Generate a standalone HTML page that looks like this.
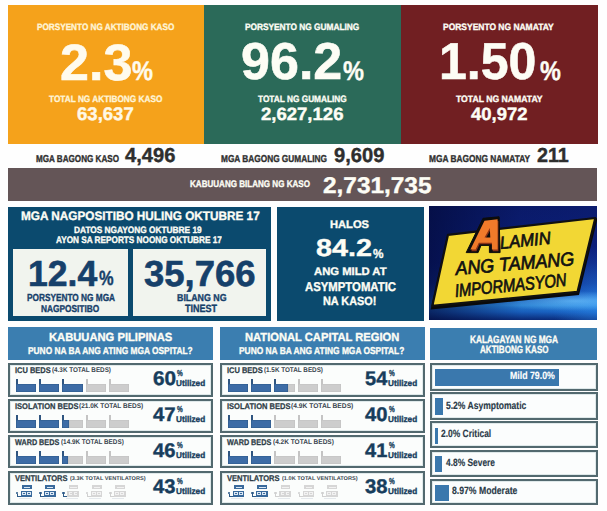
<!DOCTYPE html>
<html><head><meta charset="utf-8"><style>
html,body{margin:0;padding:0;background:#fefefe;width:607px;height:511px;overflow:hidden;position:relative}
.r{position:absolute;display:block}
.t{position:absolute;white-space:nowrap;font-family:"Liberation Sans",sans-serif;transform-origin:0 0;text-rendering:geometricPrecision}
</style></head><body>
<div class="r" style="left:8px;top:5px;width:196px;height:139px;background:#F5A21B;"></div>
<div class="r" style="left:204px;top:5px;width:197px;height:139px;background:#2B6A59;"></div>
<div class="r" style="left:401px;top:5px;width:197px;height:139px;background:#711F22;"></div>
<div class="t" style="left:36.83px;top:23px;font-size:9.25px;line-height:9.25px;font-weight:bold;color:#fff4d6;transform:scaleX(0.885);-webkit-text-stroke:0.35px #fff4d6;">PORSYENTO NG AKTIBONG KASO</div>
<div class="t" style="left:59.74px;top:37px;font-size:51.25px;line-height:51.25px;font-weight:bold;color:#fffbee;transform:scaleX(1.016);-webkit-text-stroke:0.6px #fffbee;">2.3</div>
<div class="t" style="left:131.93px;top:58px;font-size:27.0px;line-height:27.0px;font-weight:bold;color:#fffbee;transform:scaleX(0.873);-webkit-text-stroke:0.4px #fffbee;">%</div>
<div class="t" style="left:49.22px;top:95px;font-size:9.25px;line-height:9.25px;font-weight:bold;color:#fff4d6;transform:scaleX(0.892);-webkit-text-stroke:0.35px #fff4d6;">TOTAL NG AKTIBONG KASO</div>
<div class="t" style="left:76.66px;top:105px;font-size:18.25px;line-height:18.25px;font-weight:bold;color:#fff8e6;transform:scaleX(1.017);-webkit-text-stroke:0.4px #fff8e6;">63,637</div>
<div class="t" style="left:244.72px;top:23px;font-size:9.25px;line-height:9.25px;font-weight:bold;color:#fdfdf5;transform:scaleX(0.898);-webkit-text-stroke:0.35px #fdfdf5;">PORSYENTO NG GUMALING</div>
<div class="t" style="left:241.05px;top:36px;font-size:52.0px;line-height:52.0px;font-weight:bold;color:#fdfdf5;-webkit-text-stroke:0.6px #fdfdf5;">96.2</div>
<div class="t" style="left:342.73px;top:58px;font-size:27.0px;line-height:27.0px;font-weight:bold;color:#fdfdf5;transform:scaleX(0.873);-webkit-text-stroke:0.4px #fdfdf5;">%</div>
<div class="t" style="left:258.32px;top:95px;font-size:9.25px;line-height:9.25px;font-weight:bold;color:#fdfdf5;transform:scaleX(0.895);-webkit-text-stroke:0.35px #fdfdf5;">TOTAL NG GUMALING</div>
<div class="t" style="left:261.44px;top:106px;font-size:17.75px;line-height:17.75px;font-weight:bold;color:#fdfdf5;transform:scaleX(1.044);-webkit-text-stroke:0.4px #fdfdf5;">2,627,126</div>
<div class="t" style="left:443.01px;top:23px;font-size:9.25px;line-height:9.25px;font-weight:bold;color:#fdfdf5;transform:scaleX(0.915);-webkit-text-stroke:0.35px #fdfdf5;">PORSYENTO NG NAMATAY</div>
<div class="t" style="left:439.40px;top:36px;font-size:52.0px;line-height:52.0px;font-weight:bold;color:#fdfdf5;transform:scaleX(0.963);-webkit-text-stroke:0.6px #fdfdf5;">1.50</div>
<div class="t" style="left:539.53px;top:58px;font-size:27.0px;line-height:27.0px;font-weight:bold;color:#fdfdf5;transform:scaleX(0.869);-webkit-text-stroke:0.4px #fdfdf5;">%</div>
<div class="t" style="left:455.91px;top:95px;font-size:9.25px;line-height:9.25px;font-weight:bold;color:#fdfdf5;transform:scaleX(0.933);-webkit-text-stroke:0.35px #fdfdf5;">TOTAL NG NAMATAY</div>
<div class="t" style="left:470.62px;top:106px;font-size:17.75px;line-height:17.75px;font-weight:bold;color:#fdfdf5;transform:scaleX(1.041);-webkit-text-stroke:0.4px #fdfdf5;">40,972</div>
<div class="t" style="left:36.33px;top:155px;font-size:10.0px;line-height:10.0px;font-weight:bold;color:#2e2e2e;transform:scaleX(0.810);-webkit-text-stroke:0.35px #2e2e2e;">MGA BAGONG KASO</div>
<div class="t" style="left:124.80px;top:146px;font-size:20.25px;line-height:20.25px;font-weight:bold;color:#2e2e2e;transform:scaleX(0.994);-webkit-text-stroke:0.4px #2e2e2e;">4,496</div>
<div class="t" style="left:221.32px;top:155px;font-size:10.0px;line-height:10.0px;font-weight:bold;color:#2e2e2e;transform:scaleX(0.828);-webkit-text-stroke:0.35px #2e2e2e;">MGA BAGONG GUMALING</div>
<div class="t" style="left:333.80px;top:146px;font-size:20.25px;line-height:20.25px;font-weight:bold;color:#2e2e2e;transform:scaleX(0.994);-webkit-text-stroke:0.4px #2e2e2e;">9,609</div>
<div class="t" style="left:428.62px;top:155px;font-size:10.0px;line-height:10.0px;font-weight:bold;color:#2e2e2e;transform:scaleX(0.834);-webkit-text-stroke:0.35px #2e2e2e;">MGA BAGONG NAMATAY</div>
<div class="t" style="left:536.71px;top:146px;font-size:20.25px;line-height:20.25px;font-weight:bold;color:#2e2e2e;transform:scaleX(0.975);-webkit-text-stroke:0.4px #2e2e2e;">211</div>
<div class="r" style="left:8px;top:168px;width:589px;height:33px;background:#645557;"></div>
<div class="t" style="left:189.74px;top:180px;font-size:9.5px;line-height:9.5px;font-weight:bold;color:#fdfdf5;transform:scaleX(0.848);-webkit-text-stroke:0.35px #fdfdf5;">KABUUANG BILANG NG KASO</div>
<div class="t" style="left:323.17px;top:174px;font-size:22.75px;line-height:22.75px;font-weight:bold;color:#fdfdf5;transform:scaleX(1.072);-webkit-text-stroke:0.4px #fdfdf5;">2,731,735</div>
<div class="r" style="left:8px;top:207px;width:263px;height:114px;background:#0B4A6E;"></div>
<div class="t" style="left:20.98px;top:210px;font-size:12.25px;line-height:12.25px;font-weight:bold;color:#fdfdf5;transform:scaleX(0.960);-webkit-text-stroke:0.35px #fdfdf5;">MGA NAGPOSITIBO HULING OKTUBRE 17</div>
<div class="t" style="left:73.72px;top:226px;font-size:9.25px;line-height:9.25px;font-weight:bold;color:#fdfdf5;transform:scaleX(0.898);-webkit-text-stroke:0.35px #fdfdf5;">DATOS NGAYONG OKTUBRE 19</div>
<div class="t" style="left:55.75px;top:236px;font-size:9.5px;line-height:9.5px;font-weight:bold;color:#fdfdf5;transform:scaleX(0.864);-webkit-text-stroke:0.35px #fdfdf5;">AYON SA REPORTS NOONG OKTUBRE 17</div>
<div class="r" style="left:13px;top:249px;width:115px;height:67px;background:#f1f4ee;"></div>
<div class="r" style="left:133px;top:249px;width:133px;height:67px;background:#f1f4ee;"></div>
<div class="t" style="left:27.67px;top:256px;font-size:36.25px;line-height:36.25px;font-weight:bold;color:#16406a;transform:scaleX(0.980);-webkit-text-stroke:0.6px #16406a;">12.4</div>
<div class="t" style="left:98.67px;top:269px;font-size:20.5px;line-height:20.5px;font-weight:bold;color:#16406a;transform:scaleX(0.801);-webkit-text-stroke:0.4px #16406a;">%</div>
<div class="t" style="left:26.82px;top:294px;font-size:10.25px;line-height:10.25px;font-weight:bold;color:#16406a;transform:scaleX(0.807);-webkit-text-stroke:0.35px #16406a;">PORSYENTO NG MGA</div>
<div class="t" style="left:41.12px;top:305px;font-size:10.0px;line-height:10.0px;font-weight:bold;color:#16406a;transform:scaleX(0.832);-webkit-text-stroke:0.35px #16406a;">NAGPOSITIBO</div>
<div class="t" style="left:144.27px;top:256px;font-size:36.25px;line-height:36.25px;font-weight:bold;color:#16406a;transform:scaleX(1.007);-webkit-text-stroke:0.6px #16406a;">35,766</div>
<div class="t" style="left:176.68px;top:294px;font-size:10.0px;line-height:10.0px;font-weight:bold;color:#16406a;transform:scaleX(0.883);-webkit-text-stroke:0.35px #16406a;">BILANG NG</div>
<div class="t" style="left:185.31px;top:304px;font-size:10.5px;line-height:10.5px;font-weight:bold;color:#16406a;transform:scaleX(0.858);-webkit-text-stroke:0.35px #16406a;">TINEST</div>
<div class="r" style="left:277px;top:207px;width:147px;height:114px;background:#0B4A6E;"></div>
<div class="t" style="left:330.22px;top:220px;font-size:11.0px;line-height:11.0px;font-weight:bold;color:#fdfdf5;transform:scaleX(1.014);-webkit-text-stroke:0.35px #fdfdf5;">HALOS</div>
<div class="t" style="left:316.44px;top:237px;font-size:24.5px;line-height:24.5px;font-weight:bold;color:#fdfdf5;transform:scaleX(1.172);-webkit-text-stroke:0.4px #fdfdf5;">84.2</div>
<div class="t" style="left:372.76px;top:247px;font-size:13.0px;line-height:13.0px;font-weight:bold;color:#fdfdf5;transform:scaleX(0.907);-webkit-text-stroke:0.35px #fdfdf5;">%</div>
<div class="t" style="left:313.66px;top:267px;font-size:11.0px;line-height:11.0px;font-weight:bold;color:#fdfdf5;transform:scaleX(1.023);-webkit-text-stroke:0.35px #fdfdf5;">ANG MILD AT</div>
<div class="t" style="left:304.86px;top:281px;font-size:12.75px;line-height:12.75px;font-weight:bold;color:#fdfdf5;transform:scaleX(0.890);-webkit-text-stroke:0.35px #fdfdf5;">ASYMPTOMATIC</div>
<div class="t" style="left:323.44px;top:295px;font-size:12.0px;line-height:12.0px;font-weight:bold;color:#fdfdf5;transform:scaleX(0.907);-webkit-text-stroke:0.35px #fdfdf5;">NA KASO!</div>
<div class="r" style="left:8px;top:327px;width:205px;height:33px;background:#3B7EB0;"></div>
<div class="r" style="left:220px;top:327px;width:205px;height:33px;background:#3B7EB0;"></div>
<div class="r" style="left:430px;top:328px;width:167px;height:32px;background:#3B7EB0;"></div>
<div class="t" style="left:49.22px;top:332px;font-size:11.75px;line-height:11.75px;font-weight:bold;color:#fdfdf5;transform:scaleX(0.953);-webkit-text-stroke:0.35px #fdfdf5;">KABUUANG PILIPINAS</div>
<div class="t" style="left:28.32px;top:347px;font-size:10.0px;line-height:10.0px;font-weight:bold;color:#fdfdf5;transform:scaleX(0.835);-webkit-text-stroke:0.35px #fdfdf5;">PUNO NA BA ANG ATING MGA OSPITAL?</div>
<div class="t" style="left:244.62px;top:332px;font-size:11.75px;line-height:11.75px;font-weight:bold;color:#fdfdf5;transform:scaleX(0.951);-webkit-text-stroke:0.35px #fdfdf5;">NATIONAL CAPITAL REGION</div>
<div class="t" style="left:239.41px;top:347px;font-size:10.0px;line-height:10.0px;font-weight:bold;color:#fdfdf5;transform:scaleX(0.838);-webkit-text-stroke:0.35px #fdfdf5;">PUNO NA BA ANG ATING MGA OSPITAL?</div>
<div class="t" style="left:469.92px;top:335px;font-size:10.5px;line-height:10.5px;font-weight:bold;color:#fdfdf5;transform:scaleX(0.792);-webkit-text-stroke:0.35px #fdfdf5;">KALAGAYAN NG MGA</div>
<div class="t" style="left:480.16px;top:345px;font-size:10.5px;line-height:10.5px;font-weight:bold;color:#fdfdf5;transform:scaleX(0.768);-webkit-text-stroke:0.35px #fdfdf5;">AKTIBONG KASO</div>
<div class="r" style="left:8px;top:363px;width:205px;height:34px;background:#fbfdfc;box-sizing:border-box;border:2px solid #52696f;box-shadow:inset 0 0 0 1px #dfe9ea"></div>
<div class="t" style="left:14.58px;top:367px;font-size:8.25px;line-height:8.25px;font-weight:bold;color:#2f3d48;transform:scaleX(0.906);-webkit-text-stroke:0.25px #2f3d48;">ICU BEDS</div>
<div class="t" style="left:51.68px;top:368px;font-size:6.75px;line-height:6.75px;font-weight:bold;color:#3a4650;transform:scaleX(0.936);">(4.3K TOTAL BEDS)</div>
<div class="t" style="left:152.77px;top:370px;font-size:19.75px;line-height:19.75px;font-weight:bold;color:#173d5c;transform:scaleX(1.052);-webkit-text-stroke:0.4px #173d5c;">60</div>
<div class="t" style="left:176.77px;top:369px;font-size:8.75px;line-height:8.75px;font-weight:bold;color:#173d5c;transform:scaleX(0.735);-webkit-text-stroke:0.35px #173d5c;">%</div>
<div class="t" style="left:176.41px;top:379px;font-size:8.5px;line-height:8.5px;font-weight:bold;color:#173d5c;transform:scaleX(0.964);-webkit-text-stroke:0.35px #173d5c;">Utilized</div>
<div class="r" style="left:15.7px;top:379.1px;width:1.9000000000000021px;height:12.699999999999989px;background:#2f5580;"></div>
<div class="r" style="left:15.7px;top:383.9px;width:20.400000000000002px;height:7.900000000000034px;background:#3d6ca6;box-shadow:inset 0 0 0 0.6px #2f5a8a"></div>
<div class="r" style="left:39.0px;top:379.1px;width:1.8999999999999986px;height:12.699999999999989px;background:#2f5580;"></div>
<div class="r" style="left:39.0px;top:383.9px;width:20.4px;height:7.900000000000034px;background:#3d6ca6;box-shadow:inset 0 0 0 0.6px #2f5a8a"></div>
<div class="r" style="left:62.4px;top:379.1px;width:1.8999999999999986px;height:12.699999999999989px;background:#2f5580;"></div>
<div class="r" style="left:62.4px;top:383.9px;width:20.4px;height:7.900000000000034px;background:#3d6ca6;box-shadow:inset 0 0 0 0.6px #2f5a8a"></div>
<div class="r" style="left:85.8px;top:379.1px;width:1.9000000000000057px;height:12.699999999999989px;background:#c4c4c4;"></div>
<div class="r" style="left:85.8px;top:383.9px;width:20.400000000000006px;height:7.900000000000034px;background:#cdcdcd;box-shadow:inset 0 0 0 0.6px #c2c2c2"></div>
<div class="r" style="left:109.1px;top:379.1px;width:1.9000000000000057px;height:12.699999999999989px;background:#c4c4c4;"></div>
<div class="r" style="left:109.1px;top:383.9px;width:20.400000000000006px;height:7.900000000000034px;background:#cdcdcd;box-shadow:inset 0 0 0 0.6px #c2c2c2"></div>
<div class="r" style="left:8px;top:399px;width:205px;height:34px;background:#fbfdfc;box-sizing:border-box;border:2px solid #52696f;box-shadow:inset 0 0 0 1px #dfe9ea"></div>
<div class="t" style="left:14.57px;top:403px;font-size:8.25px;line-height:8.25px;font-weight:bold;color:#2f3d48;transform:scaleX(0.913);-webkit-text-stroke:0.25px #2f3d48;">ISOLATION BEDS</div>
<div class="t" style="left:79.48px;top:404px;font-size:6.75px;line-height:6.75px;font-weight:bold;color:#3a4650;transform:scaleX(0.962);">(21.0K TOTAL BEDS)</div>
<div class="t" style="left:153.40px;top:406px;font-size:19.75px;line-height:19.75px;font-weight:bold;color:#173d5c;transform:scaleX(1.032);-webkit-text-stroke:0.4px #173d5c;">47</div>
<div class="t" style="left:176.77px;top:405px;font-size:8.75px;line-height:8.75px;font-weight:bold;color:#173d5c;transform:scaleX(0.735);-webkit-text-stroke:0.35px #173d5c;">%</div>
<div class="t" style="left:176.41px;top:415px;font-size:8.5px;line-height:8.5px;font-weight:bold;color:#173d5c;transform:scaleX(0.964);-webkit-text-stroke:0.35px #173d5c;">Utilized</div>
<div class="r" style="left:15.7px;top:415.1px;width:1.9000000000000021px;height:12.699999999999989px;background:#2f5580;"></div>
<div class="r" style="left:15.7px;top:419.9px;width:20.400000000000002px;height:7.900000000000034px;background:#3d6ca6;box-shadow:inset 0 0 0 0.6px #2f5a8a"></div>
<div class="r" style="left:39.0px;top:415.1px;width:1.8999999999999986px;height:12.699999999999989px;background:#2f5580;"></div>
<div class="r" style="left:39.0px;top:419.9px;width:20.4px;height:7.900000000000034px;background:#3d6ca6;box-shadow:inset 0 0 0 0.6px #2f5a8a"></div>
<div class="r" style="left:62.4px;top:415.1px;width:1.8999999999999986px;height:12.699999999999989px;background:#2f5580;"></div>
<div class="r" style="left:62.4px;top:419.9px;width:6.500000000000007px;height:7.900000000000034px;background:#3d6ca6;box-shadow:inset 0 0 0 0.6px #2f5a8a"></div>
<div class="r" style="left:68.9px;top:419.9px;width:13.899999999999991px;height:7.900000000000034px;background:#cdcdcd;box-shadow:inset 0 0 0 0.6px #c2c2c2"></div>
<div class="r" style="left:85.8px;top:415.1px;width:1.9000000000000057px;height:12.699999999999989px;background:#c4c4c4;"></div>
<div class="r" style="left:85.8px;top:419.9px;width:20.400000000000006px;height:7.900000000000034px;background:#cdcdcd;box-shadow:inset 0 0 0 0.6px #c2c2c2"></div>
<div class="r" style="left:109.1px;top:415.1px;width:1.9000000000000057px;height:12.699999999999989px;background:#c4c4c4;"></div>
<div class="r" style="left:109.1px;top:419.9px;width:20.400000000000006px;height:7.900000000000034px;background:#cdcdcd;box-shadow:inset 0 0 0 0.6px #c2c2c2"></div>
<div class="r" style="left:8px;top:435px;width:205px;height:33px;background:#fbfdfc;box-sizing:border-box;border:2px solid #52696f;box-shadow:inset 0 0 0 1px #dfe9ea"></div>
<div class="t" style="left:15.10px;top:439px;font-size:8.25px;line-height:8.25px;font-weight:bold;color:#2f3d48;transform:scaleX(0.877);-webkit-text-stroke:0.25px #2f3d48;">WARD BEDS</div>
<div class="t" style="left:60.68px;top:440px;font-size:6.75px;line-height:6.75px;font-weight:bold;color:#3a4650;transform:scaleX(0.940);">(14.9K TOTAL BEDS)</div>
<div class="t" style="left:153.40px;top:442px;font-size:19.75px;line-height:19.75px;font-weight:bold;color:#173d5c;transform:scaleX(1.022);-webkit-text-stroke:0.4px #173d5c;">46</div>
<div class="t" style="left:176.77px;top:441px;font-size:8.75px;line-height:8.75px;font-weight:bold;color:#173d5c;transform:scaleX(0.735);-webkit-text-stroke:0.35px #173d5c;">%</div>
<div class="t" style="left:176.41px;top:451px;font-size:8.5px;line-height:8.5px;font-weight:bold;color:#173d5c;transform:scaleX(0.964);-webkit-text-stroke:0.35px #173d5c;">Utilized</div>
<div class="r" style="left:15.7px;top:451.1px;width:1.9000000000000021px;height:12.699999999999989px;background:#2f5580;"></div>
<div class="r" style="left:15.7px;top:455.9px;width:20.400000000000002px;height:7.900000000000034px;background:#3d6ca6;box-shadow:inset 0 0 0 0.6px #2f5a8a"></div>
<div class="r" style="left:39.0px;top:451.1px;width:1.8999999999999986px;height:12.699999999999989px;background:#2f5580;"></div>
<div class="r" style="left:39.0px;top:455.9px;width:20.4px;height:7.900000000000034px;background:#3d6ca6;box-shadow:inset 0 0 0 0.6px #2f5a8a"></div>
<div class="r" style="left:62.4px;top:451.1px;width:1.8999999999999986px;height:12.699999999999989px;background:#2f5580;"></div>
<div class="r" style="left:62.4px;top:455.9px;width:5.500000000000007px;height:7.900000000000034px;background:#3d6ca6;box-shadow:inset 0 0 0 0.6px #2f5a8a"></div>
<div class="r" style="left:67.9px;top:455.9px;width:14.899999999999991px;height:7.900000000000034px;background:#cdcdcd;box-shadow:inset 0 0 0 0.6px #c2c2c2"></div>
<div class="r" style="left:85.8px;top:451.1px;width:1.9000000000000057px;height:12.699999999999989px;background:#c4c4c4;"></div>
<div class="r" style="left:85.8px;top:455.9px;width:20.400000000000006px;height:7.900000000000034px;background:#cdcdcd;box-shadow:inset 0 0 0 0.6px #c2c2c2"></div>
<div class="r" style="left:109.1px;top:451.1px;width:1.9000000000000057px;height:12.699999999999989px;background:#c4c4c4;"></div>
<div class="r" style="left:109.1px;top:455.9px;width:20.400000000000006px;height:7.900000000000034px;background:#cdcdcd;box-shadow:inset 0 0 0 0.6px #c2c2c2"></div>
<div class="r" style="left:8px;top:471px;width:205px;height:34px;background:#fbfdfc;box-sizing:border-box;border:2px solid #52696f;box-shadow:inset 0 0 0 1px #dfe9ea"></div>
<div class="t" style="left:15.02px;top:475px;font-size:8.25px;line-height:8.25px;font-weight:bold;color:#2f3d48;transform:scaleX(0.914);-webkit-text-stroke:0.25px #2f3d48;">VENTILATORS</div>
<div class="t" style="left:69.82px;top:477px;font-size:5.5px;line-height:5.5px;font-weight:bold;color:#3a4650;transform:scaleX(1.016);">(3.3K TOTAL VENTILATORS)</div>
<div class="t" style="left:153.40px;top:478px;font-size:19.75px;line-height:19.75px;font-weight:bold;color:#173d5c;transform:scaleX(1.022);-webkit-text-stroke:0.4px #173d5c;">43</div>
<div class="t" style="left:176.77px;top:477px;font-size:8.75px;line-height:8.75px;font-weight:bold;color:#173d5c;transform:scaleX(0.735);-webkit-text-stroke:0.35px #173d5c;">%</div>
<div class="t" style="left:176.41px;top:487px;font-size:8.5px;line-height:8.5px;font-weight:bold;color:#173d5c;transform:scaleX(0.964);-webkit-text-stroke:0.35px #173d5c;">Utilized</div>
<div class="r" style="left:21.9px;top:485.4px;width:9.900000000000002px;height:3.7000000000000455px;background:#3a6a9c;"></div>
<div class="r" style="left:23.5px;top:486.8px;width:6.699999999999999px;height:0.8000000000000114px;background:#dce8f4;"></div>
<div class="r" style="left:20.6px;top:491.0px;width:11.600000000000001px;height:5.5px;background:#3a6a9c;"></div>
<div class="r" style="left:22.0px;top:492.2px;width:3.8000000000000007px;height:3.1999999999999886px;background:#dce8f4;"></div>
<div class="r" style="left:27.0px;top:492.2px;width:3.8000000000000007px;height:3.1999999999999886px;background:#dce8f4;"></div>
<div class="r" style="left:22.9px;top:493.1px;width:2.0px;height:1.3999999999999773px;background:#3a6a9c;"></div>
<div class="r" style="left:27.9px;top:493.1px;width:2.0px;height:1.3999999999999773px;background:#3a6a9c;"></div>
<div class="r" style="left:15.7px;top:491.5px;width:2.6999999999999993px;height:2.8999999999999773px;background:#2e5a88;border-radius:50%"></div>
<div class="r" style="left:16.6px;top:493.7px;width:0.8999999999999986px;height:3.5px;background:#2e5a88;"></div>
<div class="r" style="left:17.5px;top:496.4px;width:3.1000000000000014px;height:0.8000000000000114px;background:#2e5a88;"></div>
<div class="r" style="left:19.0px;top:498.4px;width:12.0px;height:0.8000000000000114px;background:#e4e8ec;"></div>
<div class="r" style="left:45.2px;top:485.4px;width:9.899999999999999px;height:3.7000000000000455px;background:#3a6a9c;"></div>
<div class="r" style="left:46.8px;top:486.8px;width:6.700000000000003px;height:0.8000000000000114px;background:#dce8f4;"></div>
<div class="r" style="left:44.0px;top:491.0px;width:11.5px;height:5.5px;background:#3a6a9c;"></div>
<div class="r" style="left:45.3px;top:492.2px;width:3.8000000000000043px;height:3.1999999999999886px;background:#dce8f4;"></div>
<div class="r" style="left:50.3px;top:492.2px;width:3.8000000000000043px;height:3.1999999999999886px;background:#dce8f4;"></div>
<div class="r" style="left:46.2px;top:493.1px;width:2.0px;height:1.3999999999999773px;background:#3a6a9c;"></div>
<div class="r" style="left:51.2px;top:493.1px;width:2.0px;height:1.3999999999999773px;background:#3a6a9c;"></div>
<div class="r" style="left:39.0px;top:491.5px;width:2.799999999999997px;height:2.8999999999999773px;background:#2e5a88;border-radius:50%"></div>
<div class="r" style="left:40.0px;top:493.7px;width:0.7999999999999972px;height:3.5px;background:#2e5a88;"></div>
<div class="r" style="left:40.8px;top:496.4px;width:3.200000000000003px;height:0.8000000000000114px;background:#2e5a88;"></div>
<div class="r" style="left:42.3px;top:498.4px;width:12.0px;height:0.8000000000000114px;background:#e4e8ec;"></div>
<div class="r" style="left:68.6px;top:485.4px;width:9.900000000000006px;height:3.7000000000000455px;background:#d6d6d6;"></div>
<div class="r" style="left:70.2px;top:486.8px;width:6.700000000000003px;height:0.8000000000000114px;background:#f2f2f2;"></div>
<div class="r" style="left:67.3px;top:491.0px;width:11.600000000000009px;height:5.5px;background:#d6d6d6;"></div>
<div class="r" style="left:68.7px;top:492.2px;width:3.799999999999997px;height:3.1999999999999886px;background:#f2f2f2;"></div>
<div class="r" style="left:73.7px;top:492.2px;width:3.799999999999997px;height:3.1999999999999886px;background:#f2f2f2;"></div>
<div class="r" style="left:69.6px;top:493.1px;width:2.0px;height:1.3999999999999773px;background:#d6d6d6;"></div>
<div class="r" style="left:74.6px;top:493.1px;width:2.0px;height:1.3999999999999773px;background:#d6d6d6;"></div>
<div class="r" style="left:62.4px;top:491.5px;width:2.6999999999999957px;height:2.8999999999999773px;background:#2e5a88;border-radius:50%"></div>
<div class="r" style="left:63.3px;top:493.7px;width:0.9000000000000057px;height:3.5px;background:#2e5a88;"></div>
<div class="r" style="left:64.2px;top:496.4px;width:3.0999999999999943px;height:0.8000000000000114px;background:#2e5a88;"></div>
<div class="r" style="left:65.7px;top:498.4px;width:12.0px;height:0.8000000000000114px;background:#e4e8ec;"></div>
<div class="r" style="left:92.0px;top:485.4px;width:9.900000000000006px;height:3.7000000000000455px;background:#d6d6d6;"></div>
<div class="r" style="left:93.6px;top:486.8px;width:6.700000000000003px;height:0.8000000000000114px;background:#f2f2f2;"></div>
<div class="r" style="left:90.7px;top:491.0px;width:11.599999999999994px;height:5.5px;background:#d6d6d6;"></div>
<div class="r" style="left:92.1px;top:492.2px;width:3.8000000000000114px;height:3.1999999999999886px;background:#f2f2f2;"></div>
<div class="r" style="left:97.1px;top:492.2px;width:3.8000000000000114px;height:3.1999999999999886px;background:#f2f2f2;"></div>
<div class="r" style="left:93.0px;top:493.1px;width:2.0px;height:1.3999999999999773px;background:#d6d6d6;"></div>
<div class="r" style="left:98.0px;top:493.1px;width:2.0px;height:1.3999999999999773px;background:#d6d6d6;"></div>
<div class="r" style="left:85.8px;top:491.5px;width:2.700000000000003px;height:2.8999999999999773px;background:#d0d0d0;border-radius:50%"></div>
<div class="r" style="left:86.7px;top:493.7px;width:0.8999999999999915px;height:3.5px;background:#d0d0d0;"></div>
<div class="r" style="left:87.6px;top:496.4px;width:3.1000000000000085px;height:0.8000000000000114px;background:#d0d0d0;"></div>
<div class="r" style="left:89.1px;top:498.4px;width:12.0px;height:0.8000000000000114px;background:#e4e8ec;"></div>
<div class="r" style="left:115.3px;top:485.4px;width:9.900000000000006px;height:3.7000000000000455px;background:#d6d6d6;"></div>
<div class="r" style="left:116.9px;top:486.8px;width:6.699999999999989px;height:0.8000000000000114px;background:#f2f2f2;"></div>
<div class="r" style="left:114.0px;top:491.0px;width:11.599999999999994px;height:5.5px;background:#d6d6d6;"></div>
<div class="r" style="left:115.4px;top:492.2px;width:3.799999999999997px;height:3.1999999999999886px;background:#f2f2f2;"></div>
<div class="r" style="left:120.4px;top:492.2px;width:3.799999999999997px;height:3.1999999999999886px;background:#f2f2f2;"></div>
<div class="r" style="left:116.3px;top:493.1px;width:2.0px;height:1.3999999999999773px;background:#d6d6d6;"></div>
<div class="r" style="left:121.3px;top:493.1px;width:2.0px;height:1.3999999999999773px;background:#d6d6d6;"></div>
<div class="r" style="left:109.1px;top:491.5px;width:2.700000000000003px;height:2.8999999999999773px;background:#d0d0d0;border-radius:50%"></div>
<div class="r" style="left:110.0px;top:493.7px;width:0.9000000000000057px;height:3.5px;background:#d0d0d0;"></div>
<div class="r" style="left:110.9px;top:496.4px;width:3.0999999999999943px;height:0.8000000000000114px;background:#d0d0d0;"></div>
<div class="r" style="left:112.4px;top:498.4px;width:12.0px;height:0.8000000000000114px;background:#e4e8ec;"></div>
<div class="r" style="left:220px;top:363px;width:205px;height:34px;background:#fbfdfc;box-sizing:border-box;border:2px solid #52696f;box-shadow:inset 0 0 0 1px #dfe9ea"></div>
<div class="t" style="left:226.58px;top:367px;font-size:8.25px;line-height:8.25px;font-weight:bold;color:#2f3d48;transform:scaleX(0.906);-webkit-text-stroke:0.25px #2f3d48;">ICU BEDS</div>
<div class="t" style="left:263.68px;top:368px;font-size:6.75px;line-height:6.75px;font-weight:bold;color:#3a4650;transform:scaleX(0.936);">(1.5K TOTAL BEDS)</div>
<div class="t" style="left:365.00px;top:370px;font-size:19.75px;line-height:19.75px;font-weight:bold;color:#173d5c;transform:scaleX(1.013);-webkit-text-stroke:0.4px #173d5c;">54</div>
<div class="t" style="left:388.77px;top:369px;font-size:8.75px;line-height:8.75px;font-weight:bold;color:#173d5c;transform:scaleX(0.735);-webkit-text-stroke:0.35px #173d5c;">%</div>
<div class="t" style="left:388.41px;top:379px;font-size:8.5px;line-height:8.5px;font-weight:bold;color:#173d5c;transform:scaleX(0.964);-webkit-text-stroke:0.35px #173d5c;">Utilized</div>
<div class="r" style="left:227.7px;top:379.1px;width:1.9000000000000057px;height:12.699999999999989px;background:#2f5580;"></div>
<div class="r" style="left:227.7px;top:383.9px;width:20.400000000000006px;height:7.900000000000034px;background:#3d6ca6;box-shadow:inset 0 0 0 0.6px #2f5a8a"></div>
<div class="r" style="left:251.0px;top:379.1px;width:1.9000000000000057px;height:12.699999999999989px;background:#2f5580;"></div>
<div class="r" style="left:251.0px;top:383.9px;width:20.399999999999977px;height:7.900000000000034px;background:#3d6ca6;box-shadow:inset 0 0 0 0.6px #2f5a8a"></div>
<div class="r" style="left:274.4px;top:379.1px;width:1.900000000000034px;height:12.699999999999989px;background:#2f5580;"></div>
<div class="r" style="left:274.4px;top:383.9px;width:13.900000000000034px;height:7.900000000000034px;background:#3d6ca6;box-shadow:inset 0 0 0 0.6px #2f5a8a"></div>
<div class="r" style="left:288.3px;top:383.9px;width:6.5px;height:7.900000000000034px;background:#cdcdcd;box-shadow:inset 0 0 0 0.6px #c2c2c2"></div>
<div class="r" style="left:297.8px;top:379.1px;width:1.8000000000000114px;height:12.699999999999989px;background:#c4c4c4;"></div>
<div class="r" style="left:297.8px;top:383.9px;width:20.30000000000001px;height:7.900000000000034px;background:#cdcdcd;box-shadow:inset 0 0 0 0.6px #c2c2c2"></div>
<div class="r" style="left:321.1px;top:379.1px;width:1.8999999999999773px;height:12.699999999999989px;background:#c4c4c4;"></div>
<div class="r" style="left:321.1px;top:383.9px;width:20.399999999999977px;height:7.900000000000034px;background:#cdcdcd;box-shadow:inset 0 0 0 0.6px #c2c2c2"></div>
<div class="r" style="left:220px;top:399px;width:205px;height:34px;background:#fbfdfc;box-sizing:border-box;border:2px solid #52696f;box-shadow:inset 0 0 0 1px #dfe9ea"></div>
<div class="t" style="left:226.57px;top:403px;font-size:8.25px;line-height:8.25px;font-weight:bold;color:#2f3d48;transform:scaleX(0.913);-webkit-text-stroke:0.25px #2f3d48;">ISOLATION BEDS</div>
<div class="t" style="left:291.47px;top:404px;font-size:6.75px;line-height:6.75px;font-weight:bold;color:#3a4650;transform:scaleX(0.989);">(4.9K TOTAL BEDS)</div>
<div class="t" style="left:365.40px;top:406px;font-size:19.75px;line-height:19.75px;font-weight:bold;color:#173d5c;transform:scaleX(1.022);-webkit-text-stroke:0.4px #173d5c;">40</div>
<div class="t" style="left:388.77px;top:405px;font-size:8.75px;line-height:8.75px;font-weight:bold;color:#173d5c;transform:scaleX(0.735);-webkit-text-stroke:0.35px #173d5c;">%</div>
<div class="t" style="left:388.41px;top:415px;font-size:8.5px;line-height:8.5px;font-weight:bold;color:#173d5c;transform:scaleX(0.964);-webkit-text-stroke:0.35px #173d5c;">Utilized</div>
<div class="r" style="left:227.7px;top:415.1px;width:1.9000000000000057px;height:12.699999999999989px;background:#2f5580;"></div>
<div class="r" style="left:227.7px;top:419.9px;width:20.400000000000006px;height:7.900000000000034px;background:#3d6ca6;box-shadow:inset 0 0 0 0.6px #2f5a8a"></div>
<div class="r" style="left:251.0px;top:415.1px;width:1.9000000000000057px;height:12.699999999999989px;background:#2f5580;"></div>
<div class="r" style="left:251.0px;top:419.9px;width:20.399999999999977px;height:7.900000000000034px;background:#3d6ca6;box-shadow:inset 0 0 0 0.6px #2f5a8a"></div>
<div class="r" style="left:274.4px;top:415.1px;width:1.900000000000034px;height:12.699999999999989px;background:#c4c4c4;"></div>
<div class="r" style="left:274.4px;top:419.9px;width:20.400000000000034px;height:7.900000000000034px;background:#cdcdcd;box-shadow:inset 0 0 0 0.6px #c2c2c2"></div>
<div class="r" style="left:297.8px;top:415.1px;width:1.8000000000000114px;height:12.699999999999989px;background:#c4c4c4;"></div>
<div class="r" style="left:297.8px;top:419.9px;width:20.30000000000001px;height:7.900000000000034px;background:#cdcdcd;box-shadow:inset 0 0 0 0.6px #c2c2c2"></div>
<div class="r" style="left:321.1px;top:415.1px;width:1.8999999999999773px;height:12.699999999999989px;background:#c4c4c4;"></div>
<div class="r" style="left:321.1px;top:419.9px;width:20.399999999999977px;height:7.900000000000034px;background:#cdcdcd;box-shadow:inset 0 0 0 0.6px #c2c2c2"></div>
<div class="r" style="left:220px;top:435px;width:205px;height:33px;background:#fbfdfc;box-sizing:border-box;border:2px solid #52696f;box-shadow:inset 0 0 0 1px #dfe9ea"></div>
<div class="t" style="left:227.10px;top:439px;font-size:8.25px;line-height:8.25px;font-weight:bold;color:#2f3d48;transform:scaleX(0.877);-webkit-text-stroke:0.25px #2f3d48;">WARD BEDS</div>
<div class="t" style="left:272.67px;top:440px;font-size:6.75px;line-height:6.75px;font-weight:bold;color:#3a4650;transform:scaleX(0.966);">(4.2K TOTAL BEDS)</div>
<div class="t" style="left:365.40px;top:442px;font-size:19.75px;line-height:19.75px;font-weight:bold;color:#173d5c;transform:scaleX(1.013);-webkit-text-stroke:0.4px #173d5c;">41</div>
<div class="t" style="left:388.77px;top:441px;font-size:8.75px;line-height:8.75px;font-weight:bold;color:#173d5c;transform:scaleX(0.735);-webkit-text-stroke:0.35px #173d5c;">%</div>
<div class="t" style="left:388.41px;top:451px;font-size:8.5px;line-height:8.5px;font-weight:bold;color:#173d5c;transform:scaleX(0.964);-webkit-text-stroke:0.35px #173d5c;">Utilized</div>
<div class="r" style="left:227.7px;top:451.1px;width:1.9000000000000057px;height:12.699999999999989px;background:#2f5580;"></div>
<div class="r" style="left:227.7px;top:455.9px;width:20.400000000000006px;height:7.900000000000034px;background:#3d6ca6;box-shadow:inset 0 0 0 0.6px #2f5a8a"></div>
<div class="r" style="left:251.0px;top:451.1px;width:1.9000000000000057px;height:12.699999999999989px;background:#2f5580;"></div>
<div class="r" style="left:251.0px;top:455.9px;width:20.399999999999977px;height:7.900000000000034px;background:#3d6ca6;box-shadow:inset 0 0 0 0.6px #2f5a8a"></div>
<div class="r" style="left:274.4px;top:451.1px;width:1.900000000000034px;height:12.699999999999989px;background:#c4c4c4;"></div>
<div class="r" style="left:274.4px;top:455.9px;width:20.400000000000034px;height:7.900000000000034px;background:#cdcdcd;box-shadow:inset 0 0 0 0.6px #c2c2c2"></div>
<div class="r" style="left:297.8px;top:451.1px;width:1.8000000000000114px;height:12.699999999999989px;background:#c4c4c4;"></div>
<div class="r" style="left:297.8px;top:455.9px;width:20.30000000000001px;height:7.900000000000034px;background:#cdcdcd;box-shadow:inset 0 0 0 0.6px #c2c2c2"></div>
<div class="r" style="left:321.1px;top:451.1px;width:1.8999999999999773px;height:12.699999999999989px;background:#c4c4c4;"></div>
<div class="r" style="left:321.1px;top:455.9px;width:20.399999999999977px;height:7.900000000000034px;background:#cdcdcd;box-shadow:inset 0 0 0 0.6px #c2c2c2"></div>
<div class="r" style="left:220px;top:471px;width:205px;height:34px;background:#fbfdfc;box-sizing:border-box;border:2px solid #52696f;box-shadow:inset 0 0 0 1px #dfe9ea"></div>
<div class="t" style="left:227.02px;top:475px;font-size:8.25px;line-height:8.25px;font-weight:bold;color:#2f3d48;transform:scaleX(0.914);-webkit-text-stroke:0.25px #2f3d48;">VENTILATORS</div>
<div class="t" style="left:281.82px;top:477px;font-size:5.5px;line-height:5.5px;font-weight:bold;color:#3a4650;transform:scaleX(1.016);">(1.0K TOTAL VENTILATORS)</div>
<div class="t" style="left:365.20px;top:478px;font-size:19.75px;line-height:19.75px;font-weight:bold;color:#173d5c;transform:scaleX(1.022);-webkit-text-stroke:0.4px #173d5c;">38</div>
<div class="t" style="left:388.77px;top:477px;font-size:8.75px;line-height:8.75px;font-weight:bold;color:#173d5c;transform:scaleX(0.735);-webkit-text-stroke:0.35px #173d5c;">%</div>
<div class="t" style="left:388.41px;top:487px;font-size:8.5px;line-height:8.5px;font-weight:bold;color:#173d5c;transform:scaleX(0.964);-webkit-text-stroke:0.35px #173d5c;">Utilized</div>
<div class="r" style="left:233.9px;top:485.4px;width:9.900000000000006px;height:3.7000000000000455px;background:#3a6a9c;"></div>
<div class="r" style="left:235.5px;top:486.8px;width:6.699999999999989px;height:0.8000000000000114px;background:#dce8f4;"></div>
<div class="r" style="left:232.6px;top:491.0px;width:11.599999999999994px;height:5.5px;background:#3a6a9c;"></div>
<div class="r" style="left:234.0px;top:492.2px;width:3.8000000000000114px;height:3.1999999999999886px;background:#dce8f4;"></div>
<div class="r" style="left:239.0px;top:492.2px;width:3.8000000000000114px;height:3.1999999999999886px;background:#dce8f4;"></div>
<div class="r" style="left:234.9px;top:493.1px;width:2.0px;height:1.3999999999999773px;background:#3a6a9c;"></div>
<div class="r" style="left:239.9px;top:493.1px;width:2.0px;height:1.3999999999999773px;background:#3a6a9c;"></div>
<div class="r" style="left:227.7px;top:491.5px;width:2.700000000000017px;height:2.8999999999999773px;background:#2e5a88;border-radius:50%"></div>
<div class="r" style="left:228.6px;top:493.7px;width:0.9000000000000057px;height:3.5px;background:#2e5a88;"></div>
<div class="r" style="left:229.5px;top:496.4px;width:3.0999999999999943px;height:0.8000000000000114px;background:#2e5a88;"></div>
<div class="r" style="left:231.0px;top:498.4px;width:12.0px;height:0.8000000000000114px;background:#e4e8ec;"></div>
<div class="r" style="left:257.2px;top:485.4px;width:9.900000000000034px;height:3.7000000000000455px;background:#3a6a9c;"></div>
<div class="r" style="left:258.9px;top:486.8px;width:6.7000000000000455px;height:0.8000000000000114px;background:#dce8f4;"></div>
<div class="r" style="left:255.9px;top:491.0px;width:11.700000000000017px;height:5.5px;background:#3a6a9c;"></div>
<div class="r" style="left:257.4px;top:492.2px;width:3.7000000000000455px;height:3.1999999999999886px;background:#dce8f4;"></div>
<div class="r" style="left:262.4px;top:492.2px;width:3.7000000000000455px;height:3.1999999999999886px;background:#dce8f4;"></div>
<div class="r" style="left:258.2px;top:493.1px;width:2.0px;height:1.3999999999999773px;background:#3a6a9c;"></div>
<div class="r" style="left:263.2px;top:493.1px;width:2.0px;height:1.3999999999999773px;background:#3a6a9c;"></div>
<div class="r" style="left:251.0px;top:491.5px;width:2.8000000000000114px;height:2.8999999999999773px;background:#2e5a88;border-radius:50%"></div>
<div class="r" style="left:251.9px;top:493.7px;width:0.9000000000000057px;height:3.5px;background:#2e5a88;"></div>
<div class="r" style="left:252.8px;top:496.4px;width:3.0999999999999943px;height:0.8000000000000114px;background:#2e5a88;"></div>
<div class="r" style="left:254.3px;top:498.4px;width:12.099999999999966px;height:0.8000000000000114px;background:#e4e8ec;"></div>
<div class="r" style="left:280.6px;top:485.4px;width:9.899999999999977px;height:3.7000000000000455px;background:#d6d6d6;"></div>
<div class="r" style="left:282.2px;top:486.8px;width:6.699999999999989px;height:0.8000000000000114px;background:#f2f2f2;"></div>
<div class="r" style="left:279.3px;top:491.0px;width:11.599999999999966px;height:5.5px;background:#d6d6d6;"></div>
<div class="r" style="left:280.7px;top:492.2px;width:3.8000000000000114px;height:3.1999999999999886px;background:#f2f2f2;"></div>
<div class="r" style="left:285.7px;top:492.2px;width:3.8000000000000114px;height:3.1999999999999886px;background:#f2f2f2;"></div>
<div class="r" style="left:281.6px;top:493.1px;width:2.0px;height:1.3999999999999773px;background:#d6d6d6;"></div>
<div class="r" style="left:286.6px;top:493.1px;width:2.0px;height:1.3999999999999773px;background:#d6d6d6;"></div>
<div class="r" style="left:274.4px;top:491.5px;width:2.7000000000000455px;height:2.8999999999999773px;background:#d0d0d0;border-radius:50%"></div>
<div class="r" style="left:275.3px;top:493.7px;width:0.8999999999999773px;height:3.5px;background:#d0d0d0;"></div>
<div class="r" style="left:276.2px;top:496.4px;width:3.1000000000000227px;height:0.8000000000000114px;background:#d0d0d0;"></div>
<div class="r" style="left:277.7px;top:498.4px;width:12.0px;height:0.8000000000000114px;background:#e4e8ec;"></div>
<div class="r" style="left:303.9px;top:485.4px;width:10.0px;height:3.7000000000000455px;background:#d6d6d6;"></div>
<div class="r" style="left:305.6px;top:486.8px;width:6.599999999999966px;height:0.8000000000000114px;background:#f2f2f2;"></div>
<div class="r" style="left:302.7px;top:491.0px;width:11.5px;height:5.5px;background:#d6d6d6;"></div>
<div class="r" style="left:304.1px;top:492.2px;width:3.7999999999999545px;height:3.1999999999999886px;background:#f2f2f2;"></div>
<div class="r" style="left:309.1px;top:492.2px;width:3.7999999999999545px;height:3.1999999999999886px;background:#f2f2f2;"></div>
<div class="r" style="left:304.9px;top:493.1px;width:2.0px;height:1.3999999999999773px;background:#d6d6d6;"></div>
<div class="r" style="left:309.9px;top:493.1px;width:2.0px;height:1.3999999999999773px;background:#d6d6d6;"></div>
<div class="r" style="left:297.8px;top:491.5px;width:2.599999999999966px;height:2.8999999999999773px;background:#d0d0d0;border-radius:50%"></div>
<div class="r" style="left:298.7px;top:493.7px;width:0.9000000000000341px;height:3.5px;background:#d0d0d0;"></div>
<div class="r" style="left:299.6px;top:496.4px;width:3.099999999999966px;height:0.8000000000000114px;background:#d0d0d0;"></div>
<div class="r" style="left:301.1px;top:498.4px;width:12.0px;height:0.8000000000000114px;background:#e4e8ec;"></div>
<div class="r" style="left:327.3px;top:485.4px;width:9.899999999999977px;height:3.7000000000000455px;background:#d6d6d6;"></div>
<div class="r" style="left:328.9px;top:486.8px;width:6.7000000000000455px;height:0.8000000000000114px;background:#f2f2f2;"></div>
<div class="r" style="left:326.0px;top:491.0px;width:11.600000000000023px;height:5.5px;background:#d6d6d6;"></div>
<div class="r" style="left:327.4px;top:492.2px;width:3.8000000000000114px;height:3.1999999999999886px;background:#f2f2f2;"></div>
<div class="r" style="left:332.4px;top:492.2px;width:3.8000000000000114px;height:3.1999999999999886px;background:#f2f2f2;"></div>
<div class="r" style="left:328.3px;top:493.1px;width:2.0px;height:1.3999999999999773px;background:#d6d6d6;"></div>
<div class="r" style="left:333.3px;top:493.1px;width:2.0px;height:1.3999999999999773px;background:#d6d6d6;"></div>
<div class="r" style="left:321.1px;top:491.5px;width:2.6999999999999886px;height:2.8999999999999773px;background:#d0d0d0;border-radius:50%"></div>
<div class="r" style="left:322.0px;top:493.7px;width:0.8999999999999773px;height:3.5px;background:#d0d0d0;"></div>
<div class="r" style="left:322.9px;top:496.4px;width:3.1000000000000227px;height:0.8000000000000114px;background:#d0d0d0;"></div>
<div class="r" style="left:324.4px;top:498.4px;width:12.0px;height:0.8000000000000114px;background:#e4e8ec;"></div>
<div class="r" style="left:430px;top:363px;width:168px;height:28px;background:#fbfdfd;box-sizing:border-box;border:2px solid #52696f;box-shadow:inset 0 0 0 1px #dfe9ea"></div>
<div class="r" style="left:435px;top:369px;width:124px;height:17px;background:#3a78ad;"></div>
<div class="t" style="left:510.09px;top:371px;font-size:10.5px;line-height:10.5px;font-weight:bold;color:#fff;transform:scaleX(0.836);-webkit-text-stroke:0.15px #fff;">Mild 79.0%</div>
<div class="r" style="left:430px;top:392px;width:168px;height:28px;background:#fbfdfd;box-sizing:border-box;border:2px solid #52696f;box-shadow:inset 0 0 0 1px #dfe9ea"></div>
<div class="r" style="left:435px;top:398px;width:8px;height:17px;background:#3a78ad;"></div>
<div class="t" style="left:445.84px;top:401px;font-size:10.5px;line-height:10.5px;font-weight:bold;color:#2a3a48;transform:scaleX(0.813);-webkit-text-stroke:0.15px #2a3a48;">5.2% Asymptomatic</div>
<div class="r" style="left:430px;top:421px;width:168px;height:27px;background:#fbfdfd;box-sizing:border-box;border:2px solid #52696f;box-shadow:inset 0 0 0 1px #dfe9ea"></div>
<div class="r" style="left:435px;top:428px;width:3px;height:16px;background:#3a78ad;"></div>
<div class="t" style="left:440.95px;top:429px;font-size:10.5px;line-height:10.5px;font-weight:bold;color:#2a3a48;transform:scaleX(0.804);-webkit-text-stroke:0.15px #2a3a48;">2.0% Critical</div>
<div class="r" style="left:430px;top:450px;width:168px;height:27px;background:#fbfdfd;box-sizing:border-box;border:2px solid #52696f;box-shadow:inset 0 0 0 1px #dfe9ea"></div>
<div class="r" style="left:435px;top:456px;width:7px;height:16px;background:#3a78ad;"></div>
<div class="t" style="left:445.62px;top:458px;font-size:10.5px;line-height:10.5px;font-weight:bold;color:#2a3a48;transform:scaleX(0.799);-webkit-text-stroke:0.15px #2a3a48;">4.8% Severe</div>
<div class="r" style="left:430px;top:479px;width:168px;height:26px;background:#fbfdfd;box-sizing:border-box;border:2px solid #52696f;box-shadow:inset 0 0 0 1px #dfe9ea"></div>
<div class="r" style="left:435px;top:485px;width:14px;height:16px;background:#3a78ad;"></div>
<div class="t" style="left:451.94px;top:486px;font-size:10.5px;line-height:10.5px;font-weight:bold;color:#2a3a48;transform:scaleX(0.824);-webkit-text-stroke:0.15px #2a3a48;">8.97% Moderate</div>
<svg class="r" style="left:429px;top:206px" width="168" height="114" viewBox="0 0 168 114">
<defs>
<linearGradient id="bg" x1="0" y1="0" x2="0" y2="1">
<stop offset="0" stop-color="#0b1c6e"/><stop offset="0.5" stop-color="#0b2080"/>
<stop offset="0.68" stop-color="#0d3296"/><stop offset="0.8" stop-color="#1658c0"/>
<stop offset="0.87" stop-color="#2a8ae2"/><stop offset="0.93" stop-color="#1a66c8"/>
<stop offset="1" stop-color="#0a2c7c"/></linearGradient>
<linearGradient id="dl" x1="0" y1="0" x2="1" y2="0">
<stop offset="0" stop-color="#030a38" stop-opacity="0.7"/><stop offset="0.55" stop-color="#030a38" stop-opacity="0.1"/><stop offset="1" stop-color="#030a38" stop-opacity="0"/></linearGradient>
<linearGradient id="rl" x1="0" y1="0" x2="1" y2="0">
<stop offset="0.7" stop-color="#2a80e0" stop-opacity="0"/><stop offset="1" stop-color="#2a80e0" stop-opacity="0.45"/></linearGradient>
<radialGradient id="rg" cx="0.5" cy="0.5" r="0.5"><stop offset="0" stop-color="#2a84e4" stop-opacity="0.55"/><stop offset="1" stop-color="#2a84e4" stop-opacity="0"/></radialGradient>
<radialGradient id="hl" cx="0.5" cy="0.5" r="0.5">
<stop offset="0" stop-color="#6cc4ff" stop-opacity="0.75"/><stop offset="1" stop-color="#6cc4ff" stop-opacity="0"/></radialGradient>
</defs>
<rect x="0" y="0" width="168" height="114" fill="url(#bg)"/>
<ellipse cx="168" cy="95" rx="45" ry="55" fill="url(#rg)"/>
<ellipse cx="145" cy="95" rx="85" ry="10" fill="url(#hl)"/>
<rect x="0" y="0" width="168" height="114" fill="url(#dl)"/>
<polygon points="19,28.8 166.3,12 148.5,85.9 3.3,99.9" fill="#0a0a0a" stroke="#0a0a0a" stroke-width="3" transform="translate(0.3,1.8)"/>
<polygon points="19,28.8 166.3,12 148.5,85.9 3.3,99.9" fill="#f2d734" stroke="#101010" stroke-width="2.2" stroke-linejoin="round"/>
<path d="M54,12.3 L70.1,10.8 L71.1,46.6 L60.4,46.6 L60.4,39.4 L52,39.4 L49.1,46.6 L37.2,46.6 Z" fill="#0c0c0c" stroke="#0c0c0c" stroke-width="1" stroke-linejoin="round"/>
<path d="M55.5,14.8 L68.6,13.3 L68.6,43.6 L62.9,43.6 L62.9,36.7 L49.8,36.7 L46.6,43.6 L41.4,43.6 Z M60.8,22.1 L55.5,31.4 L61.3,31.4 Z" fill="#8a3216" fill-rule="evenodd" transform="translate(0.8,1.6)"/>
<path d="M55.5,14.8 L68.6,13.3 L68.6,43.6 L62.9,43.6 L62.9,36.7 L49.8,36.7 L46.6,43.6 L41.4,43.6 Z M60.8,22.1 L55.5,31.4 L61.3,31.4 Z" fill="#f07a2a" fill-rule="evenodd"/>
<g font-family="Liberation Sans" font-weight="normal" font-style="italic" fill="#111" stroke="#111" stroke-width="0.7">
<text x="71.5" y="43" font-size="17.5" textLength="51" lengthAdjust="spacingAndGlyphs" transform="rotate(-6 71.5 43)">LAMIN</text>
<text x="27" y="69" font-size="19" textLength="119" lengthAdjust="spacingAndGlyphs" transform="rotate(-4.8 27 69)">ANG TAMANG</text>
<text x="26.5" y="91" font-size="18" textLength="112" lengthAdjust="spacingAndGlyphs" transform="rotate(-5.8 26.5 91)">IMPORMASYON</text>
</g>
</svg>
</body></html>
